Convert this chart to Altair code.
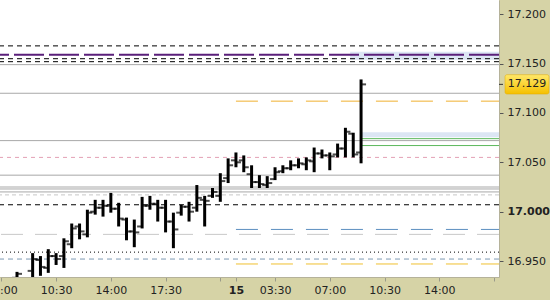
import altair as alt
import pandas as pd

# ---------------- data ----------------
bar_index = [0, 2, 3, 4, 5, 6, 7, 8, 9, 10, 11, 12, 13, 14, 15, 16, 17, 18, 19, 20, 21, 22,
             23, 24, 25, 26, 27, 28, 29, 30, 31, 32, 33, 34, 35, 36, 37, 38, 39, 40, 41, 42, 43, 44]
opens = [16.933, 16.940, 16.951, 16.943, 16.955, 16.955, 16.967, 16.985, 16.977, 17.000, 17.004,
         17.006, 17.003, 16.992, 16.980, 16.985, 17.006, 17.008, 17.004, 16.990, 16.999, 17.005,
         17.004, 17.012, 17.016, 17.016, 17.034, 17.052, 17.052, 17.038, 17.030, 17.027, 17.033,
         17.041, 17.044, 17.047, 17.048, 17.051, 17.059, 17.057, 17.058, 17.064, 17.079, 17.060]
highs = [16.939, 16.958, 16.955, 16.962, 16.958, 16.973, 16.988, 16.988, 17.002, 17.012, 17.012,
         17.019, 17.009, 16.994, 16.992, 17.015, 17.016, 17.012, 17.012, 16.999, 17.007, 17.010,
         17.027, 17.016, 17.024, 17.039, 17.054, 17.060, 17.057, 17.047, 17.037, 17.036, 17.045,
         17.047, 17.052, 17.054, 17.055, 17.065, 17.063, 17.060, 17.069, 17.085, 17.080, 17.134]
lows = [16.930, 16.930, 16.935, 16.938, 16.946, 16.943, 16.963, 16.972, 16.974, 16.997, 16.995,
        16.999, 16.985, 16.971, 16.964, 16.983, 17.002, 16.990, 16.979, 16.963, 16.996, 16.990,
        17.000, 16.985, 17.014, 17.010, 17.029, 17.045, 17.040, 17.024, 17.024, 17.024, 17.032,
        17.039, 17.042, 17.044, 17.042, 17.040, 17.054, 17.042, 17.055, 17.055, 17.055, 17.049]
closes = [16.937, 16.952, 16.944, 16.955, 16.952, 16.970, 16.983, 16.980, 16.999, 17.004, 17.006,
          17.003, 16.993, 16.980, 16.979, 17.006, 17.008, 17.004, 16.990, 16.982, 17.005, 17.000,
          17.014, 17.011, 17.020, 17.031, 17.047, 17.050, 17.045, 17.030, 17.028, 17.029, 17.040,
          17.044, 17.047, 17.049, 17.052, 17.059, 17.057, 17.056, 17.064, 17.081, 17.058, 17.129]

# horizontal levels grouped by style
black_dashed = [17.168, 17.155, 17.152, 17.007]
purple_levels = [17.159]
gray_solid = [17.149, 17.120, 17.072, 17.037, 17.025, 17.023, 17.020]
light_gray_short = [17.017]
light_gray_long = [16.977]
pink_dashed = [17.055]
orange_dashed = [17.112]
blue_dashed = [16.982]
yellow_dashed = [16.947]
dotted_black = [16.959]
slate_dashed = [16.952]
green_levels = [17.074, 17.067]
late_start = 28          # bar index where the later levels begin
last_bar = 44
band_top = [17.162, 17.0805]
band_bottom = [17.154, 17.0755]
band_start = [42.6, 44]

y_ticks = [16.95, 17.0, 17.05, 17.1, 17.15, 17.2]
y_bold_tick = 17.0
x_tick_pos = [-2, 5, 12, 19, 26, 28, 33, 40, 47, 54, 61]
x_tick_text = ["07:00", "10:30", "14:00", "17:30", "", "15", "03:30", "07:00", "10:30", "14:00", ""]
x_bold_tick = 28
current_price = 17.129

X_MIN, X_MAX = -2.174, 61.64
Y_MIN, Y_MAX = 16.9338, 17.2145

# ---------------- chart ----------------
FONT = "DejaVu Sans"
xs = alt.Scale(domain=[X_MIN, X_MAX], nice=False, zero=False)
ys = alt.Scale(domain=[Y_MIN, Y_MAX], nice=False, zero=False)

ohlc = pd.DataFrame({"i": bar_index, "o": opens, "h": highs, "l": lows, "c": closes})

label_expr = " : ".join(
    f"datum.value == {p} ? '{t}'" for p, t in zip(x_tick_pos, x_tick_text)) + " : ''"

x_axis = alt.Axis(values=x_tick_pos, labelExpr=label_expr, title=None, grid=False,
                  labelFont=FONT, labelFontSize=11, labelColor="#222222",
                  labelFontWeight={"condition": {"test": f"datum.value == {x_bold_tick}",
                                                 "value": "bold"}, "value": "normal"},
                  tickColor="#9a9a8a", tickSize=4, labelPadding=3,
                  domainColor="#b5b29a", labelOverlap=False, labelBound=False, labelFlush=False)
y_axis = alt.Axis(orient="right", values=y_ticks, format=".3f", title=None, grid=False,
                  labelFont=FONT, labelFontSize=11, labelColor="#222222",
                  labelFontWeight={"condition": {"test": f"abs(datum.value - {y_bold_tick}) < 1e-6",
                                                 "value": "bold"}, "value": "normal"},
                  tickColor="#555555", tickSize=4, labelPadding=4,
                  domainColor="#b5b29a", labelOverlap=False, labelBound=False, labelFlush=False)


def hlines(values, color, dash=None, width=1.0, start=None):
    df = pd.DataFrame({"v": values})
    kw = dict(color=color, strokeWidth=width)
    if dash is not None:
        kw["strokeDash"] = dash
    enc = dict(y=alt.Y("v:Q", scale=ys))
    if start is not None:
        df["s"] = start
        enc["x"] = alt.X("s:Q", scale=xs)
        enc["x2"] = alt.datum(X_MAX)
    return alt.Chart(df).mark_rule(**kw).encode(**enc)


base = alt.Chart(ohlc)

# invisible first layer carrying both axes
axes_layer = base.mark_point(opacity=0, clip=True).encode(
    x=alt.X("i:Q", scale=xs, axis=x_axis),
    y=alt.Y("c:Q", scale=ys, axis=y_axis))

bands = alt.Chart(pd.DataFrame({"t": band_top, "b": band_bottom, "s": band_start})).mark_rect(
    color="#dce6f4").encode(
    x=alt.X("s:Q", scale=xs), x2=alt.datum(X_MAX),
    y=alt.Y("b:Q", scale=ys), y2="t:Q")

layers = [
    axes_layer,
    bands,
    hlines(gray_solid, "#a8a8a8"),
    hlines(light_gray_short, "#c8c8c8", [4, 3]),
    hlines(light_gray_long, "#c8c8c8", [22, 12]),
    hlines(black_dashed, "#000000", [5, 4]),
    hlines(purple_levels, "#5a1f7a", [30, 5], 2),
    hlines(pink_dashed, "#e4a0b4", [4, 4]),
    hlines(orange_dashed, "#f0b030", [22, 13], 1, late_start),
    hlines(blue_dashed, "#5b8ec0", [22, 13], 1, late_start),
    hlines(yellow_dashed, "#f0c030", [22, 13], 1, late_start),
    hlines(dotted_black, "#000000", [1, 3]),
    hlines(slate_dashed, "#7f9bb5", [5, 4]),
    hlines(green_levels, "#5cb85c", None, 1, last_bar),
]

rng = base.mark_rule(color="#000000", strokeWidth=3, clip=True).encode(
    x=alt.X("i:Q", scale=xs),
    y=alt.Y("l:Q", scale=ys), y2="h:Q")
open_tick = base.mark_tick(orient="horizontal", color="#000000", size=4, thickness=2,
                           xOffset=-3, clip=True).encode(
    x=alt.X("i:Q", scale=xs), y=alt.Y("o:Q", scale=ys))
close_tick = base.mark_tick(orient="horizontal", color="#000000", size=4, thickness=2,
                            xOffset=3, clip=True).encode(
    x=alt.X("i:Q", scale=xs), y=alt.Y("c:Q", scale=ys))

price_df = pd.DataFrame({"p": [current_price]})
price_box = alt.Chart(price_df).transform_calculate(
    lo="datum.p - 0.0098", hi="datum.p + 0.0098").mark_rect(
    clip=False, cornerRadius=2, stroke="#e0a800", strokeWidth=0.5,
    fill=alt.Gradient(gradient="linear", x1=0, y1=0, x2=0, y2=1,
                      stops=[alt.GradientStop(color="#ffe86a", offset=0),
                             alt.GradientStop(color="#f5c000", offset=1)])).encode(
    x=alt.value(505), x2=alt.value(549),
    y=alt.Y("lo:Q", scale=ys), y2="hi:Q")
price_tick = alt.Chart(price_df).mark_rule(color="#333333", clip=False).encode(
    x=alt.value(499), x2=alt.value(503), y=alt.Y("p:Q", scale=ys))
price_text = alt.Chart(price_df).mark_text(
    font=FONT, fontSize=11, color="#222222", align="center", baseline="middle", clip=False).encode(
    x=alt.value(527), y=alt.Y("p:Q", scale=ys), text=alt.Text("p:Q", format=".3f"))

chart = alt.layer(*layers, rng, open_tick, close_tick, price_tick, price_box, price_text).properties(
    width=499, height=277,
    autosize=alt.AutoSizeParams(type="none"),
    padding={"left": 0, "top": 0, "right": 51, "bottom": 23},
    background="#d6d3a6",
).configure_view(fill="#ffffff", stroke=None)

chart.save("out.html", embed_options={"renderer": "svg", "actions": False})
